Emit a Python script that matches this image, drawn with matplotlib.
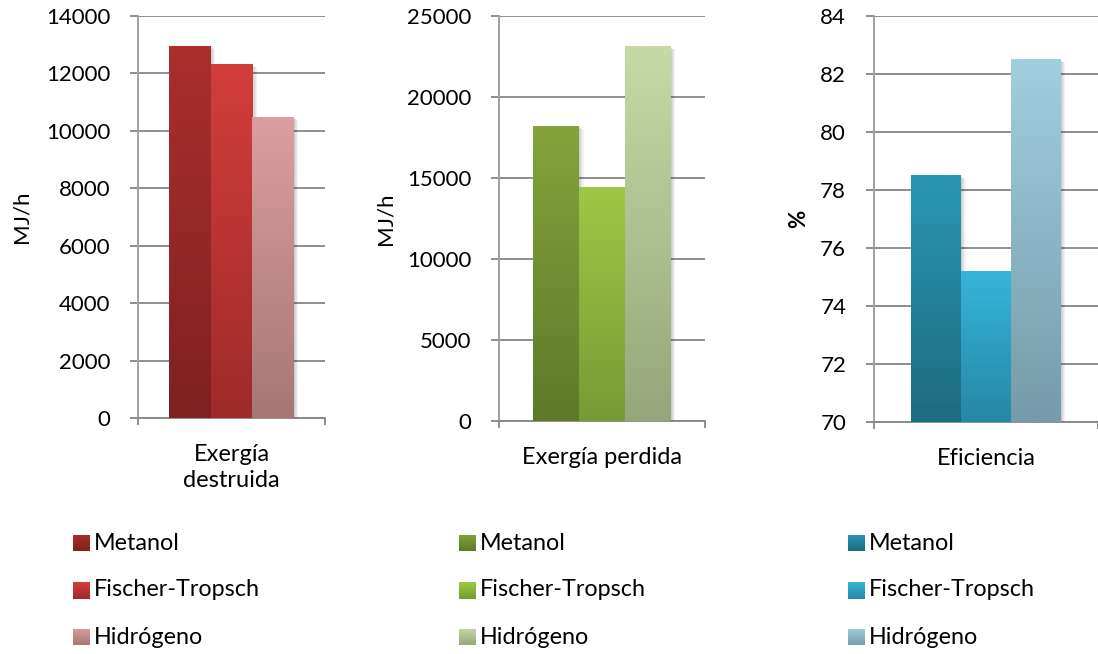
import numpy as np
import matplotlib.pyplot as plt
import matplotlib.patheffects as pe
from matplotlib.colors import to_rgb

plt.rcParams['font.family'] = ['Lato', 'DejaVu Sans']
plt.rcParams['font.size'] = 16

W, H = 1098, 654

series = ['Metanol', 'Fischer-Tropsch', 'Hidrógeno']

categories = ['Exergía\ndestruida', 'Exergía perdida', 'Eficiencia']
exergia_destruida = [12950, 12300, 10480]
exergia_perdida = [18200, 14400, 23100]
eficiencia = [78.5, 75.2, 82.5]

y_labels = ['MJ/h', 'MJ/h', '%']
y_limits = [(0, 14000, 2000), (0, 25000, 5000), (70, 84, 2)]

# (top, bottom) colour of each bar gradient
palettes = [
    [('#AA2F2D', '#7E2120'), ('#D23E3B', '#9E2B29'), ('#DC9E9E', '#A67676')],
    [('#84A43B', '#5E792A'), ('#9EC846', '#789A34'), ('#C7D9A6', '#96A67A')],
    [('#2A97B3', '#1D6B80'), ('#36B5D9', '#2687A4'), ('#A0CFE0', '#769BAA')],
]

# axes boxes in pixels: left, top, right, bottom
boxes = [(138, 16, 325, 418), (499, 16, 705, 421), (874, 16, 1098, 422)]
ylabel_x = [22, 385, 799]
legend_x = [73, 459, 848]
legend_rows = [543, 590, 637]

GRID = '#868686'

# soft drop shadow: a few faint offset copies
shadow = [pe.SimplePatchShadow(offset=(d, -d * 0.6), shadow_rgbFace='k', alpha=0.05)
          for d in (0.8, 1.6, 2.4, 3.2)]


def gradient(top, bottom, n=96):
    t = np.linspace(0, 1, n)[:, None]
    c = (1 - t) * np.array(to_rgb(top)) + t * np.array(to_rgb(bottom))
    return c[:, None, :]


fig = plt.figure(figsize=(W / 100, H / 100), dpi=100)

values_all = [exergia_destruida, exergia_perdida, eficiencia]
width = 0.2227

for k in range(3):
    l, t, r, b = boxes[k]
    ax = fig.add_axes([l / W, 1 - b / H, (r - l) / W, (b - t) / H])
    ymin, ymax, step = y_limits[k]

    for j, v in enumerate(values_all[k]):
        top, bot = palettes[k][j]
        x = (j - 1) * width
        bar = ax.bar(x, v - ymin, width, bottom=ymin, color=bot, lw=0, zorder=3)[0]
        bar.set_path_effects(shadow + [pe.Normal()])
        ax.imshow(gradient(top, bot), extent=[x - width / 2, x + width / 2, ymin, v],
                  aspect='auto', interpolation='bilinear', zorder=4)

    ax.set_xlim(-0.5, 0.5)
    ax.set_ylim(ymin, ymax)
    ax.set_yticks(np.arange(ymin, ymax + step / 2, step))
    ax.yaxis.grid(True, color=GRID, lw=1.3, zorder=1)
    ax.set_axisbelow(True)

    ax.set_xticks([0])
    ax.set_xticklabels([categories[k]], linespacing=1.25, fontsize=17)
    ax.set_xticks([-0.5, 0.5], minor=True)
    ax.tick_params(axis='x', which='major', length=0, pad=19)
    ax.tick_params(axis='x', which='minor', length=5, width=1.3, color=GRID)
    ax.tick_params(axis='y', length=6, width=1.3, color=GRID, pad=14)

    for s in ['top', 'right']:
        ax.spines[s].set_visible(False)
    ax.spines['left'].set_color('#A0A0A0')
    ax.spines['left'].set_linewidth(1.4)
    ax.spines['bottom'].set_color(GRID)
    ax.spines['bottom'].set_linewidth(1.3)

    fig.text(ylabel_x[k] / W, 1 - ((t + b) / 2) / H, y_labels[k], rotation=90,
             ha='center', va='center',
             fontweight='bold' if y_labels[k] == '%' else 'normal')

    # legend: gradient squares with labels
    for j, name in enumerate(series):
        top, bot = palettes[k][j]
        yc = legend_rows[j]
        m = 17
        key = fig.add_axes([legend_x[k] / W, 1 - (yc + m / 2) / H, m / W, m / H])
        key.imshow(gradient(top, bot), aspect='auto', interpolation='bilinear')
        key.set_axis_off()
        fig.text((legend_x[k] + m + 4) / W, 1 - yc / H, name, ha='left', va='center',
                 fontsize=16.8)

fig.savefig('out.png', dpi=100)
